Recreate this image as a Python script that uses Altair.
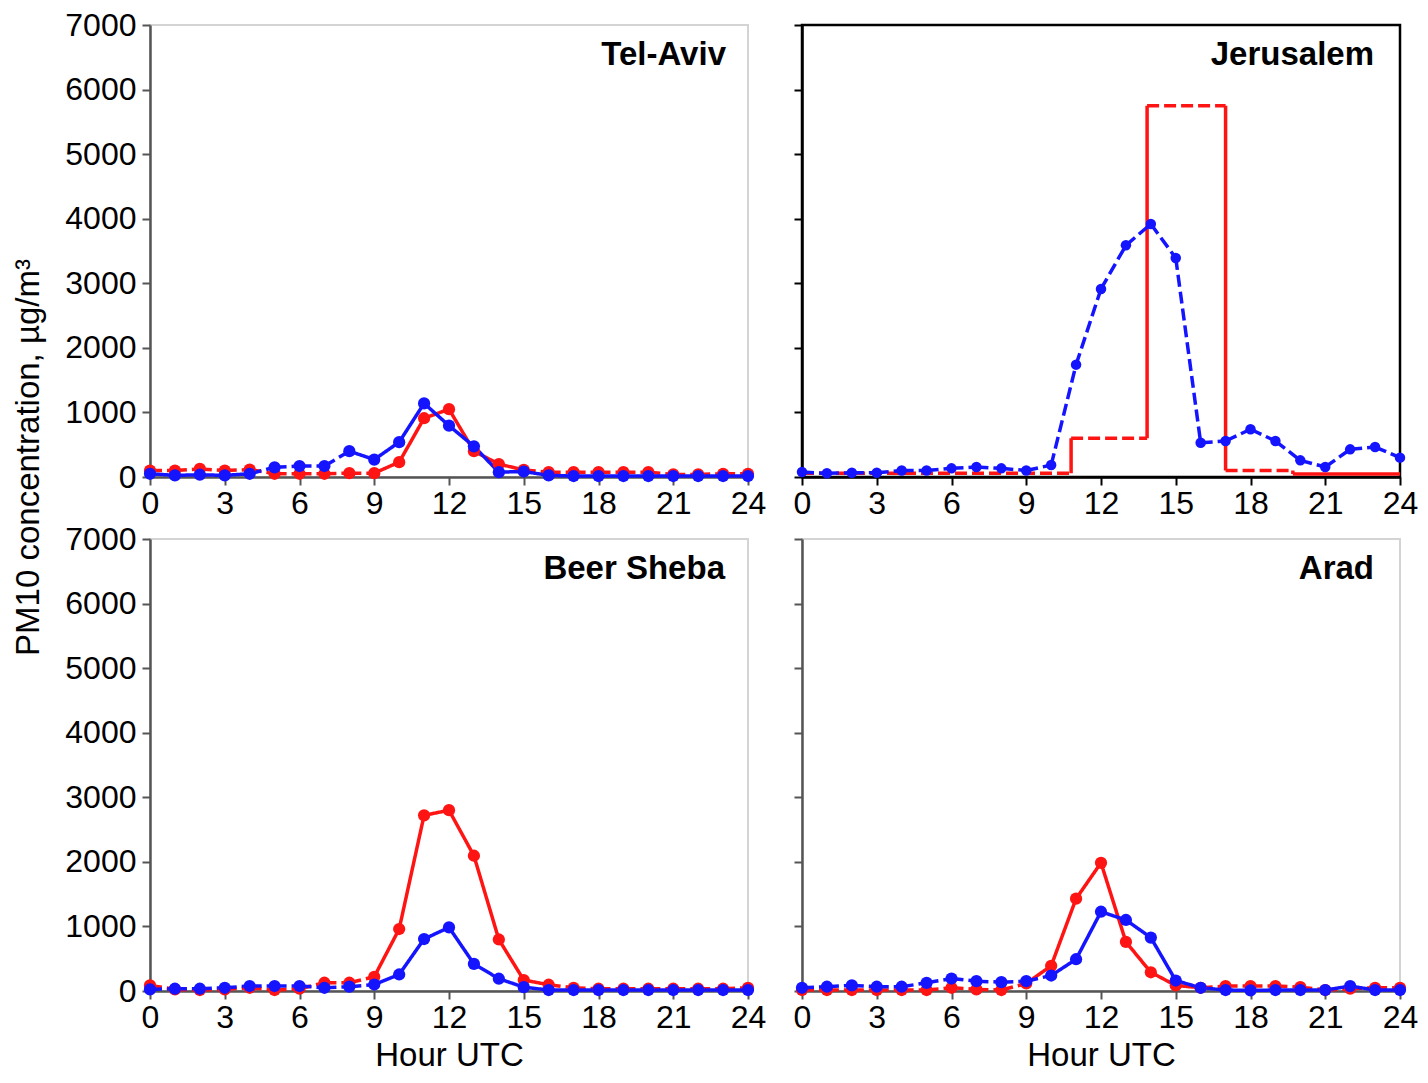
import altair as alt
import pandas as pd

FONT = "Liberation Sans"
HOURS = list(range(25))

# Tel-Aviv
TA_RED = [100, 100, 125, 100, 115, 50, 50, 50, 60, 60, 230, 910, 1050, 400, 200, 110, 75, 75, 75, 75, 75, 40, 40, 50, 50]
TA_BLUE = [50, 25, 35, 25, 50, 150, 170, 170, 400, 270, 540, 1140, 795, 475, 75, 85, 25, 15, 15, 15, 15, 15, 15, 15, 15]
# Jerusalem
J_BLUE = [77, 57, 67, 67, 100, 100, 134, 155, 134, 100, 185, 1740, 2912, 3588, 3918, 3392, 530, 557, 740, 557, 258, 155, 428, 464, 300]
J_RED_X = [0, 10.8, 10.8, 13.85, 13.85, 17, 17, 19.7, 19.7, 24]
J_RED_Y = [60, 60, 600, 600, 5750, 5750, 100, 100, 45, 45]
J_RED_DASH = [1, 0, 1, 0, 1, 0, 1, 0, 0]
# Beer Sheba
BS_RED = [87, 25, 15, 25, 50, 15, 35, 128, 128, 220, 960, 2720, 2800, 2095, 798, 170, 97, 50, 35, 35, 35, 35, 35, 35, 50]
BS_BLUE = [25, 35, 35, 50, 77, 77, 77, 50, 67, 100, 256, 805, 985, 420, 190, 60, 15, 15, 15, 15, 15, 15, 15, 15, 15]
# Arad
AR_RED = [15, 15, 15, 15, 15, 15, 50, 25, 15, 117, 390, 1430, 1985, 760, 290, 86, 50, 76, 76, 76, 60, 15, 35, 50, 50]
AR_BLUE = [50, 66, 86, 66, 66, 127, 193, 152, 137, 152, 240, 492, 1228, 1100, 827, 162, 50, 15, 10, 15, 15, 15, 76, 15, 15]

X_TICKS = list(range(0, 25, 3))
Y_TICKS = list(range(0, 7001, 1000))
RED = "#ff1414"
BLUE = "#1414ff"
W = 598
H = 452
LAB = 32
TIT = 33


def flags(n, ranges):
    return [1 if any(a <= i < b for a, b in ranges) else 0 for i in range(n)]


def segs(xs, ys, s, dash):
    rows = []
    for i in range(len(xs) - 1):
        rows.append(dict(x=xs[i], x2=xs[i + 1], y=ys[i], y2=ys[i + 1], s=s,
                         d="dashed" if dash[i] else "solid"))
    return rows


def pts(xs, ys, s):
    return [dict(x=a, y=b, s=s) for a, b in zip(xs, ys)]


def panel(name, title_x, seg_rows, pt_rows, left, bottom, framed, ytitle=False, msize=150):
    dark = "#000000" if framed else "#555555"
    xkw = dict(values=X_TICKS, labelFontSize=LAB, labelFont=FONT, labelColor="black",
               tickSize=8, tickWidth=2, tickColor=dark, domainColor=dark,
               domainWidth=2.5, grid=False, labelPadding=3,
               labelFlush=False, labelOverlap=False, format="d")
    if bottom:
        xkw.update(title="Hour UTC", titleFontSize=TIT, titleFont=FONT, titleFontWeight="normal",
                   titleColor="black", titlePadding=6)
    else:
        xkw.update(title="")
    ykw = dict(values=Y_TICKS, labelFontSize=LAB, labelFont=FONT, labelColor="black",
               tickSize=8, tickWidth=2, tickColor=dark, domainColor=dark, domainWidth=2.5,
               grid=False, labelPadding=6, labelFlush=False, labelOverlap=False, labels=left,
               format="d")
    if ytitle:
        ykw.update(title="PM10 concentration, µg/m³", titleFontSize=TIT, titleFont=FONT,
                   titleFontWeight="normal", titleColor="black", titleX=-122, titleY=432,
                   titleAngle=270, titleAlign="center", titleBaseline="middle")
    else:
        ykw.update(title="")
    xs = alt.Scale(domain=[0, 24], nice=False, zero=False)
    ys = alt.Scale(domain=[0, 7000], nice=False)
    col = alt.Color("s:N", scale=alt.Scale(domain=["red", "blue"], range=[RED, BLUE]), legend=None)

    rules = alt.Chart(pd.DataFrame(seg_rows)).mark_rule(strokeWidth=3.5, strokeCap="butt").encode(
        x=alt.X("x:Q", scale=xs, axis=alt.Axis(**xkw)),
        x2="x2:Q",
        y=alt.Y("y:Q", scale=ys, axis=alt.Axis(**ykw)),
        y2="y2:Q",
        color=col,
        strokeDash=alt.StrokeDash("d:N", scale=alt.Scale(domain=["solid", "dashed"],
                                                          range=[[1, 0], [12, 5]]), legend=None),
    )
    dots = alt.Chart(pd.DataFrame(pt_rows)).mark_circle(size=msize, opacity=1).encode(
        x=alt.X("x:Q", scale=xs, axis=alt.Axis(**xkw)),
        y=alt.Y("y:Q", scale=ys, axis=alt.Axis(**ykw)),
        color=col,
    )
    label = alt.Chart(pd.DataFrame({"t": [name]})).mark_text(
        align="right", baseline="middle", fontSize=TIT, fontWeight="bold", font=FONT, color="black"
    ).encode(text="t:N", x=alt.value(title_x), y=alt.value(30))
    view = alt.ViewBackground(stroke="black", strokeWidth=2.5) if framed else \
        alt.ViewBackground(stroke="#d4d4d4", strokeWidth=2)
    return alt.layer(rules, dots, label).properties(width=W, height=H, view=view)


ta = panel("Tel-Aviv", W - 22,
           segs(HOURS, TA_RED, "red", flags(24, [(0, 9), (15, 24)])) +
           segs(HOURS, TA_BLUE, "blue", flags(24, [(4, 8)])),
           pts(HOURS, TA_RED, "red") + pts(HOURS, TA_BLUE, "blue"),
           left=True, bottom=False, framed=False, ytitle=True)

jer = panel("Jerusalem", W - 26,
            segs(J_RED_X, J_RED_Y, "red", J_RED_DASH) +
            segs(HOURS, J_BLUE, "blue", flags(24, [(0, 24)])),
            pts(HOURS, J_BLUE, "blue"),
            left=False, bottom=False, framed=True, msize=110)

bs = panel("Beer Sheba", W - 23,
           segs(HOURS, BS_RED, "red", flags(24, [(0, 9), (16, 24)])) +
           segs(HOURS, BS_BLUE, "blue", flags(24, [(0, 9)])),
           pts(HOURS, BS_RED, "red") + pts(HOURS, BS_BLUE, "blue"),
           left=True, bottom=True, framed=False)

ar = panel("Arad", W - 26,
           segs(HOURS, AR_RED, "red", flags(24, [(0, 9), (16, 24)])) +
           segs(HOURS, AR_BLUE, "blue", flags(24, [(0, 10)])),
           pts(HOURS, AR_RED, "red") + pts(HOURS, AR_BLUE, "blue"),
           left=False, bottom=True, framed=False)

chart = alt.concat(ta, jer, bs, ar, columns=2,
                   spacing=alt.RowColnumber(row=62, column=54),
                   bounds="flush").properties(
    padding={"top": 0, "left": 3, "right": 0, "bottom": 0}
).configure(font=FONT).configure_view(stroke="#d4d4d4")

chart.save("out.html", embed_options={"renderer": "svg", "actions": False})
